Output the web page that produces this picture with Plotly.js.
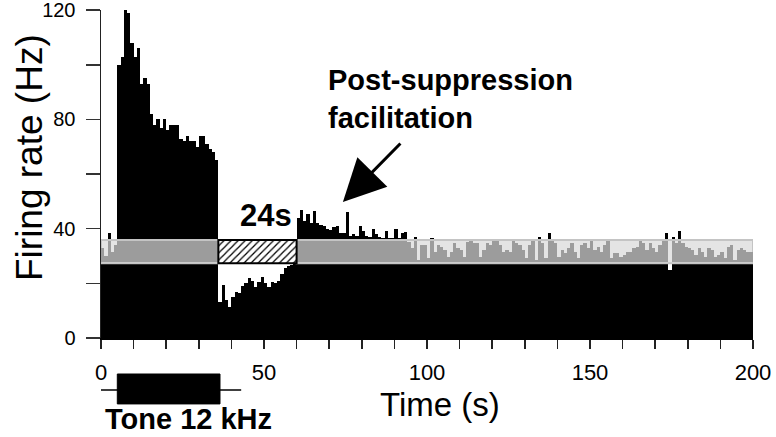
<!DOCTYPE html>
<html><head><meta charset="utf-8">
<script src="https://cdn.plot.ly/plotly-3.0.1.min.js"></script>
<style>html,body{margin:0;padding:0;background:#fff}#chart{width:776px;height:437px}</style>
</head><body><div id="chart"></div>
<script>
// Firing rate (Hz) per 1-s bin
const preTone = [33, 30, 38.3, 31.5, 34];
const toneResp = [100, 103, 120, 119, 108, 103, 106, 93, 95, 93, 82, 78, 80, 77, 80, 76, 78, 78, 78, 73, 72, 74, 72, 72, 70, 74, 74, 71, 69, 68, 65];
const suppression = [13, 19.5, 14, 11.5, 15, 17, 16.5, 19, 20, 22, 21, 18.5, 20.5, 22.5, 20, 18.5, 20.5, 20, 21, 23.5, 25.5, 26.2, 26.8, 27.2];
const postSupp = [44, 47, 43, 45.5, 42, 46.5, 42, 41.5, 41, 40, 39.5, 40.5, 41, 38.5, 38.5, 46, 37.5, 38, 37.5, 41, 39, 37.5, 36.8, 40, 38, 37, 36.5, 39, 36.5, 36.5, 40, 36.6, 38.5, 38.8];
const baselineA = [35, 33, 37, 28.5, 34, 34, 29.2, 36.5, 31.6, 34, 33.4, 32.2, 29.8, 31.6, 34.6, 32.8, 32.2, 29.8, 35.2, 35.9, 34.6, 34.6, 29.8, 32.2, 34.6, 34, 36.2, 35.9, 34, 31.6, 32.2, 31.6, 36.2, 34.6, 34, 32.2, 29.2, 34, 35.9, 28.5, 37, 34.6, 29.2, 38.3, 35.9, 34.6, 29.8, 32.2, 31, 32.8, 34.6, 31.6, 29.2, 34, 34.6];
const baselineB = [32.8, 35.9, 32.2, 33.4, 31.6, 34, 35.9, 29.2, 31, 31, 29.8, 30.4, 31.6, 31.6, 32.8, 33.4, 35.9, 34.6, 32.2, 34.6, 32.8, 31.6, 34, 35.9, 38.3, 25, 37.1, 34.6, 39, 34.6, 33.4, 32.8, 32.2, 30.4, 32.8, 31.6, 29.8, 32.8, 32.2, 29.8, 30.4, 31.6, 29.2, 33.4, 34, 28.5, 32.2, 32.8, 32.2, 31.6, 31.6];

const band = [27.4, 35.9];          // spontaneous rate band (Hz)
const suppWin = [36, 60];           // 24 s hatched window (s)
const tone = [5, 36];               // tone on/off (s)
const toneTrack = [-1, 43];         // stimulus line (s)
const yTicks = [0, 20, 40, 60, 80, 100, 120];
const yTickText = ['0', '', '40', '', '80', '', '120'];
const xTicks = [0, 10, 20, 30, 40, 50, 60, 70, 80, 90, 100, 110, 120, 130, 140, 150, 160, 170, 180, 190, 200];
const xTickText = ['0', '', '', '', '', '50', '', '', '', '', '100', '', '', '', '', '150', '', '', '', '', '200'];

const rate = [].concat(preTone, toneResp, suppression, postSupp, baselineA, baselineB);
const centers = rate.map((_, i) => i + 0.5);

const inset = 0.35;
const gx = [], gb = [], gy = [];
rate.forEach((v, i) => {
  const c = i + 0.5;
  if (c > suppWin[0] && c < suppWin[1]) return;
  const lo = band[0] + inset, hi = band[1] - inset;
  const top = Math.min(v, hi);
  if (top > lo) { gx.push(c); gb.push(lo); gy.push(top - lo); }
});

const font = 'Liberation Sans, Arial, Helvetica, sans-serif';

const traces = [
  { type: 'bar', x: centers, y: rate, width: 1, marker: { color: '#000', line: { width: 0 } }, hoverinfo: 'x+y' },
  { type: 'bar', x: [(0 + suppWin[0]) / 2, (suppWin[1] + 200) / 2], width: [suppWin[0], 200 - suppWin[1]],
    base: [band[0], band[0]], y: [band[1] - band[0], band[1] - band[0]],
    marker: { color: '#e4e4e4', line: { color: '#c4c4c4', width: 2 } }, hoverinfo: 'skip' },
  { type: 'bar', x: gx, base: gb, y: gy, width: 1, marker: { color: '#9c9c9c', line: { width: 0 } }, hoverinfo: 'skip' },
  { type: 'bar', x: [(suppWin[0] + suppWin[1]) / 2], width: [suppWin[1] - suppWin[0]], base: [band[0]], y: [band[1] - band[0]],
    marker: { color: '#fff', pattern: { shape: '/', fgcolor: '#000', bgcolor: '#fff', size: 5, solidity: 0.25 },
      line: { color: '#000', width: 2 } }, hoverinfo: 'skip' }
];

const layout = {
  width: 776, height: 437,
  margin: { l: 101, r: 23, t: 10, b: 99 },
  paper_bgcolor: '#fff', plot_bgcolor: '#fff',
  barmode: 'overlay', bargap: 0, showlegend: false,
  font: { family: font, color: '#000' },
  xaxis: {
    range: [0, 200], tickvals: xTicks, ticktext: xTickText, ticks: 'outside', ticklen: 9, tickwidth: 1.5, tickcolor: '#222',
    showline: true, linecolor: '#000', linewidth: 1.5, showgrid: false, zeroline: false,
    tickfont: { size: 22, family: font }, ticklabelstandoff: 5, ticklabeloverflow: 'allow'
  },
  yaxis: {
    range: [0, 120.05], tickvals: yTicks, ticktext: yTickText, ticks: 'outside', ticklen: 14, tickwidth: 1.5, tickcolor: '#333',
    showline: true, linecolor: '#222', linewidth: 1.5, showgrid: false, zeroline: false,
    tickfont: { size: 20, family: font }, ticklabelstandoff: 6, ticklabeloverflow: 'allow'
  },
  shapes: [
    { type: 'line', xref: 'x', yref: 'paper', x0: toneTrack[0], x1: toneTrack[1], y0: -0.1585, y1: -0.1585, line: { color: '#000', width: 1.5 } },
    { type: 'rect', xref: 'x', yref: 'paper', x0: tone[0], x1: tone[1] + 0.5, y0: -0.201, y1: -0.1098, fillcolor: '#000', line: { color: '#000', width: 1 } }
  ],
  annotations: [
    { text: 'Time (s)', xref: 'paper', yref: 'paper', x: (440 - 101) / 652, y: (338 - 404) / 328, xanchor: 'center', yanchor: 'middle', showarrow: false, font: { size: 33, family: font } },
    { text: 'Firing rate (Hz)', xref: 'paper', yref: 'paper', x: (29 - 101) / 652, y: (338 - 158) / 328, xanchor: 'center', yanchor: 'middle', textangle: -90, showarrow: false, font: { size: 37, family: font } },
    { text: '<b>Tone 12 kHz</b>', xref: 'x', yref: 'paper', x: 26.9, y: (338 - 419) / 328, xanchor: 'center', yanchor: 'middle', showarrow: false, font: { size: 29, family: font } },
    { text: '<b>24s</b>', xref: 'x', yref: 'y', x: (suppWin[0] + suppWin[1]) / 2 + 2.6, y: 45, xanchor: 'center', yanchor: 'middle', showarrow: false, font: { size: 31, family: font } },
    { text: '<b>Post-suppression<br>facilitation</b>', xref: 'x', yref: 'y', x: 69.0, y: 87.5, xanchor: 'left', yanchor: 'middle', align: 'left', showarrow: false, font: { size: 29, family: font } },
    { text: '', xref: 'x', yref: 'y', x: 74.2, y: 49.8, ax: 59, ay: -60, showarrow: true, arrowhead: 2, arrowsize: 2.8, arrowwidth: 3, arrowcolor: '#000' }
  ]
};

Plotly.newPlot('chart', traces, layout, { displayModeBar: false, staticPlot: true });
</script></body></html>
